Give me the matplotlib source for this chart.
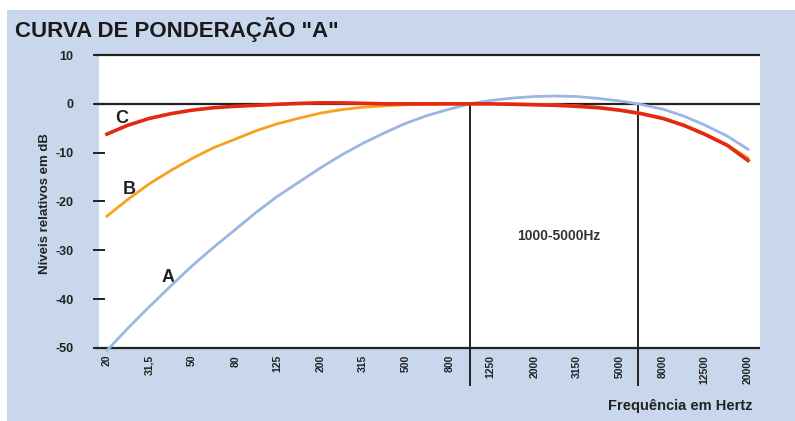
import matplotlib
matplotlib.use("Agg")
import matplotlib.pyplot as plt
from matplotlib.patches import Rectangle

plt.rcParams['font.family'] = ['Liberation Sans Narrow', 'Liberation Sans', 'DejaVu Sans']

freqs = [20, 25, 31.5, 40, 50, 63, 80, 100, 125, 160, 200, 250, 315, 400, 500, 630,
         800, 1000, 1250, 1600, 2000, 2500, 3150, 4000, 5000, 6300, 8000, 10000,
         12500, 16000, 20000]
curve_a = [-50.5, -46.0, -41.6, -37.2, -33.2, -29.4, -25.7, -22.2, -19.0, -15.9, -13.1,
           -10.5, -8.1, -5.9, -4.0, -2.4, -1.1, 0.0, 0.7, 1.2, 1.5, 1.6, 1.5, 1.1, 0.6,
           -0.1, -1.1, -2.5, -4.3, -6.6, -9.3]
curve_b = [-23.0, -19.6, -16.4, -13.6, -11.2, -9.0, -7.2, -5.5, -4.1, -2.9, -1.9,
           -1.2, -0.7, -0.4, -0.2, -0.1, 0.0, 0.0, 0.0, 0.0, -0.1, -0.2, -0.4, -0.7,
           -1.2, -1.9, -2.9, -4.3, -6.1, -8.4, -11.1]
curve_c = [-6.2, -4.4, -3.0, -2.0, -1.3, -0.8, -0.5, -0.3, -0.1, 0.1, 0.2, 0.2, 0.1,
           0.0, 0.0, 0.0, 0.0, 0.0, 0.0, -0.1, -0.2, -0.3, -0.5, -0.8, -1.3, -2.0,
           -3.0, -4.4, -6.2, -8.5, -11.6]
tick_freqs = [20, 31.5, 50, 80, 125, 200, 315, 500, 800, 1250, 2000, 3150, 5000,
              8000, 12500, 20000]
tick_labels = ["20", "31,5", "50", "80", "125", "200", "315", "500", "800", "1250",
               "2000", "3150", "5000", "8000", "12500", "20000"]
y_ticks = [10, 0, -10, -20, -30, -40, -50]
band_edges = [1000, 6100]

BG = "#c9d7ec"
W, H = 795, 421
fig = plt.figure(figsize=(W / 100, H / 100), dpi=100, facecolor="white")
fig.patches.append(Rectangle((7 / W, 0), 1 - 7 / W, (H - 10) / H,
                             transform=fig.transFigure, facecolor=BG,
                             edgecolor="none", zorder=-5))

ax = fig.add_axes([99 / W, (H - 348) / H, (760 - 99) / W, (348 - 55) / H])
ax.set_facecolor("white")
ax.set_xscale("log")
XMIN, XMAX = 18.36, 22770
ax.set_xlim(XMIN, XMAX)
ax.set_ylim(-50, 10)
for s in ["left", "right", "top", "bottom"]:
    ax.spines[s].set_visible(False)

# horizontal reference lines (10, 0, -50)
for yv in [10, 0, -50]:
    ax.plot([17.58, XMAX], [yv, yv], color="#222222", lw=1.6,
            clip_on=False, zorder=3, solid_capstyle="butt")

# vertical band lines
for xv in band_edges:
    ax.plot([xv, xv], [0, -57.5], color="#222222", lw=1.4, clip_on=False, zorder=3)

ax.plot(freqs, curve_a, color="#9bb6e2", lw=2.0, zorder=4, clip_on=False)
ax.plot(freqs, curve_b, color="#f6a21e", lw=2.0, zorder=5, clip_on=False)
ax.plot(freqs, curve_c, color="#e52812", lw=2.6, zorder=6, clip_on=False)

ax.set_yticks(y_ticks)
ax.set_yticklabels([str(v) for v in y_ticks], fontsize=9, fontweight="bold", color="#222222")
ax.tick_params(axis="y", direction="inout", length=9, width=1.4, color="#222222", pad=14)

ax.set_xticks(tick_freqs)
ax.set_xticklabels(tick_labels, rotation=90, fontsize=7.5, fontweight="bold",
                   color="#222222", va="top")
ax.minorticks_off()
ax.tick_params(axis="x", length=0, pad=5)

ax.text(23.5, -3.1, "C", fontsize=13, fontweight="bold", color="#222222", ha="center", va="center")
ax.text(25.3, -17.6, "B", fontsize=13, fontweight="bold", color="#222222", ha="center", va="center")
ax.text(38.5, -35.5, "A", fontsize=13, fontweight="bold", color="#222222", ha="center", va="center")
ax.text(2600, -27.0, "1000-5000Hz", fontsize=10, fontweight="bold", color="#333333",
        ha="center", va="center")

fig.text(15 / W, 1 - 30 / H, 'CURVA DE PONDERAÇÃO "A"', fontsize=16, fontweight="bold",
         color="#1a1a1a", ha="left", va="center")
fig.text(45 / W, 1 - 204 / H, "Níveis relativos em dB", rotation=90, fontsize=9.5,
         fontweight="bold", color="#222222", ha="center", va="center")
fig.text(752 / W, 1 - 406 / H, "Frequência em Hertz", fontsize=10.5, fontweight="bold",
         color="#222222", ha="right", va="center")

fig.savefig("out.png", dpi=100, facecolor="white")
